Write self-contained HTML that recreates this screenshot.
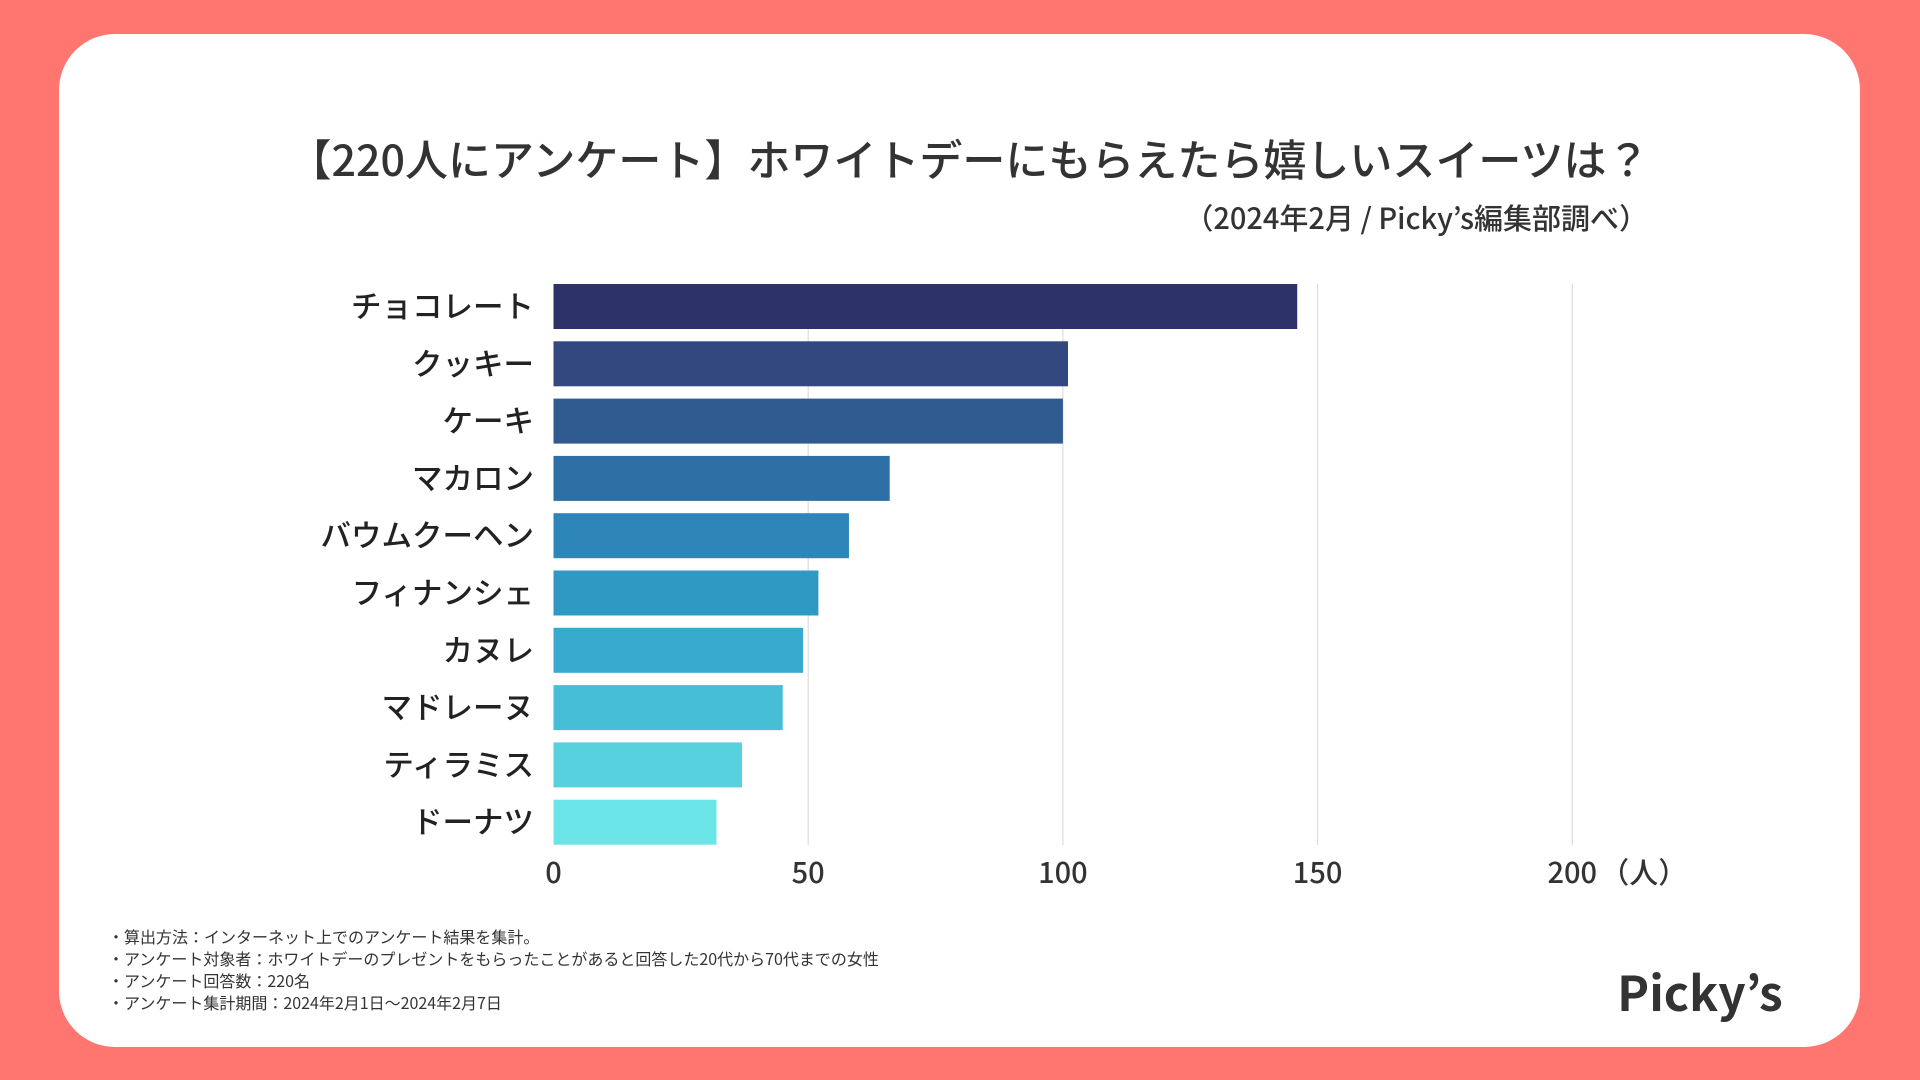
<!DOCTYPE html>
<html><head><meta charset="utf-8">
<style>
body{margin:0;width:1920px;height:1080px;background:#ff7670;font-family:"Noto Sans CJK JP",sans-serif;overflow:hidden;}
#card{position:absolute;left:59px;top:34px;width:1801px;height:1013px;background:#fff;border-radius:56px;}
text{font-family:"Noto Sans CJK JP",sans-serif;}
</style></head><body>
<div id="card"></div>
<svg id="chart" width="1920" height="1080" style="position:absolute;left:0;top:0">
<text x="969" y="176" text-anchor="middle" font-size="43" font-weight="500" fill="#333">【220人にアンケート】ホワイトデーにもらえたら嬉しいスイーツは？</text>
<text x="1648" y="229" text-anchor="end" font-size="29" font-weight="500" fill="#333">（2024年2月 / Picky’s編集部調べ）</text>
<g id="grid"></g><g id="bars"></g><g id="labels"></g><g id="ticks"></g>
<g font-size="16" fill="#333">
<text x="108" y="943">・算出方法：インターネット上でのアンケート結果を集計。</text>
<text x="108" y="965">・アンケート対象者：ホワイトデーのプレゼントをもらったことがあると回答した20代から70代までの女性</text>
<text x="108" y="987">・アンケート回答数：220名</text>
<text x="108" y="1009">・アンケート集計期間：2024年2月1日〜2024年2月7日</text>
</g>
<text x="1700" y="1011" text-anchor="middle" font-size="48" font-weight="bold" fill="#333">Picky’s</text>
</svg>
<script>
const categories=["チョコレート","クッキー","ケーキ","マカロン","バウムクーヘン","フィナンシェ","カヌレ","マドレーヌ","ティラミス","ドーナツ"];
const values=[146,101,100,66,58,52,49,45,37,32];
const tickValues=[0,50,100,150,200];
const colors=["#2d3269","#32487f","#2f5b90","#2e70a5","#2e85b8","#2f98c3","#38aacd","#45bed6","#58d1df","#6ce5e8"];
const NS="http://www.w3.org/2000/svg";
const x0=553.5,unit=5.094,top0=284,step=57.3,bh=45;
const xs=v=>x0+v*unit;
const ys=i=>top0+i*step;
function mk(t,a,p){const e=document.createElementNS(NS,t);for(const k in a)e.setAttribute(k,a[k]);document.getElementById(p).appendChild(e);return e;}
tickValues.forEach(v=>{
 if(v>0){const l=mk('line',{x1:xs(v),x2:xs(v),y1:284,y2:845,stroke:'#ddd','stroke-width':1.2},'grid');
 
 }
 const t=mk('text',{x:xs(v),y:883,'text-anchor':'middle','font-size':29,'font-weight':'500',fill:'#333'},'ticks');
 t.textContent=v;
 
 
});
const u=mk('text',{x:xs(200)+28,y:883,'font-size':29,'font-weight':'500',fill:'#333'},'ticks');
u.textContent='（人）';


categories.forEach((c,i)=>{
 const r=mk('rect',{x:x0,y:ys(i),width:xs(values[i])-x0,height:bh,fill:colors[i]},'bars');
 
 
 const t=mk('text',{x:534,y:ys(i)+bh/2+11,'text-anchor':'end','font-size':30.5,'font-weight':'500',fill:'#222'},'labels');
 t.textContent=c;
 
 
});
</script>
</body></html>
